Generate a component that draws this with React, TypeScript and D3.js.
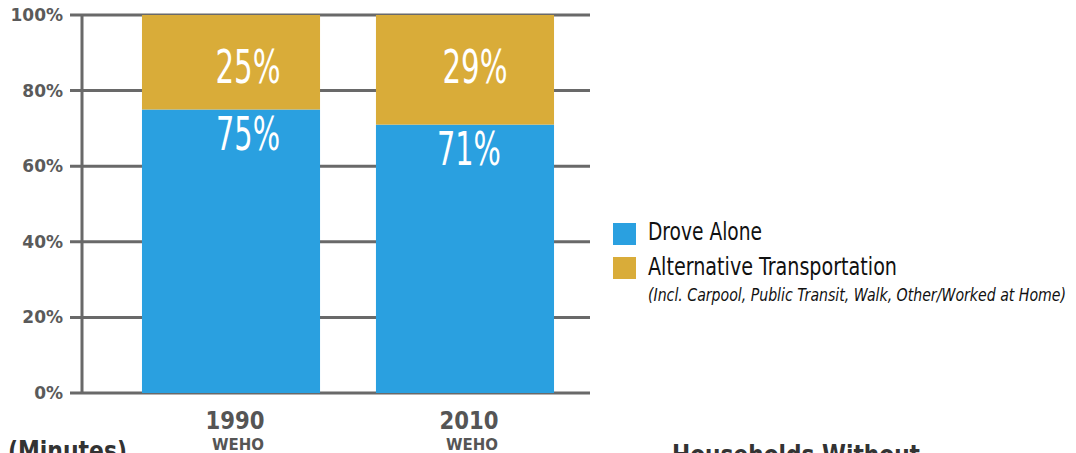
import React, { useEffect, useRef } from 'react'
import * as d3 from 'd3'

const years = ['1990', '2010']
const places = ['WEHO', 'WEHO']
const droveAlone = [75, 71]
const alternative = [25, 29]
const yTicks = [0, 20, 40, 60, 80, 100]
const legendLabels = ['Drove Alone', 'Alternative Transportation']
const legendNote = '(Incl. Carpool, Public Transit, Walk, Other/Worked at Home)'

const BLUE = '#2aa0e0'
const TAN = '#d9ac39'
const GRID = '#696969'
const NARROW = "'Liberation Sans Narrow', 'DejaVu Sans Condensed', 'Roboto', sans-serif"
const BOLD = "'DejaVu Sans', sans-serif"

export default function App() {
    const ref = useRef<SVGSVGElement>(null)

    useEffect(() => {
        const svg = d3.select(ref.current)
        svg.selectAll('*').remove()

        const y = d3.scaleLinear().domain([0, 100]).range([393, 15])
        const x = d3.scaleBand().domain(years).range([85, 611]).paddingInner(0.239).paddingOuter(0.2435)

        // gridlines
        svg.append('g').selectAll('line').data(yTicks).join('line')
            .attr('x1', 70).attr('x2', 590)
            .attr('y1', d => y(d)).attr('y2', d => y(d))
            .attr('stroke', GRID).attr('stroke-width', 3)

        svg.append('line')
            .attr('x1', 82).attr('x2', 82).attr('y1', y(100)).attr('y2', y(0))
            .attr('stroke', GRID).attr('stroke-width', 3)

        svg.append('g').selectAll('text').data(yTicks).join('text')
            .attr('x', 63).attr('y', d => y(d) + 6)
            .attr('text-anchor', 'end')
            .style('font', `bold 17px ${BOLD}`)
            .attr('fill', '#5a5a5a')
            .text(d => d + '%')

        // label nudges, as placed in the original (top, bottom)
        const topShift = [17, 10]
        const botShift = [17, 4]

        // bars
        const bars = svg.append('g')
        years.forEach((yr, i) => {
            const bx = x(yr) as number
            const mid = bx + x.bandwidth() / 2
            bars.append('rect')
                .attr('x', bx).attr('width', x.bandwidth())
                .attr('y', y(droveAlone[i])).attr('height', y(0) - y(droveAlone[i]))
                .attr('fill', BLUE)
            bars.append('rect')
                .attr('x', bx).attr('width', x.bandwidth())
                .attr('y', y(100)).attr('height', y(droveAlone[i]) - y(100))
                .attr('fill', TAN)

            bars.append('text')
                .attr('x', mid + topShift[i]).attr('y', y(100) + 68)
                .attr('text-anchor', 'middle')
                .attr('textLength', 65).attr('lengthAdjust', 'spacingAndGlyphs')
                .style('font', `46px ${NARROW}`).attr('fill', '#fff')
                .text(alternative[i] + '%')
            bars.append('text')
                .attr('x', mid + botShift[i]).attr('y', y(droveAlone[i]) + 40)
                .attr('text-anchor', 'middle')
                .attr('textLength', 64).attr('lengthAdjust', 'spacingAndGlyphs')
                .style('font', `46px ${NARROW}`).attr('fill', '#fff')
                .text(droveAlone[i] + '%')

            svg.append('text')
                .attr('x', mid + 4).attr('y', 429)
                .attr('text-anchor', 'middle')
                .attr('textLength', 59).attr('lengthAdjust', 'spacingAndGlyphs')
                .style('font', `bold 25px ${BOLD}`).attr('fill', '#555')
                .text(yr)
            svg.append('text')
                .attr('x', mid + 7).attr('y', 450)
                .attr('text-anchor', 'middle')
                .attr('textLength', 52).attr('lengthAdjust', 'spacingAndGlyphs')
                .style('font', `bold 16px ${BOLD}`).attr('fill', '#555')
                .text(places[i])
        })

        // legend
        const lg = svg.append('g')
        const colors = [BLUE, TAN]
        const lens = [114, 249]
        legendLabels.forEach((t, i) => {
            lg.append('rect').attr('x', 613).attr('y', 223 + i * 34).attr('width', 23).attr('height', 22)
                .attr('fill', colors[i])
            lg.append('text').attr('x', 648).attr('y', 240 + i * 35)
                .attr('textLength', lens[i]).attr('lengthAdjust', 'spacingAndGlyphs')
                .style('font', `24px ${NARROW}`).attr('fill', '#111')
                .text(t)
        })
        lg.append('text').attr('x', 648).attr('y', 301)
            .attr('textLength', 418).attr('lengthAdjust', 'spacingAndGlyphs')
            .style('font', `italic 18px ${NARROW}`).attr('fill', '#111')
            .text(legendNote)

        // cut-off headings from the next section
        svg.append('text').attr('x', 8).attr('y', 460)
            .attr('textLength', 119).attr('lengthAdjust', 'spacingAndGlyphs')
            .style('font', `bold 27px ${BOLD}`).attr('fill', '#333')
            .text('(Minutes)')
        svg.append('text').attr('x', 672).attr('y', 464)
            .attr('textLength', 248).attr('lengthAdjust', 'spacingAndGlyphs')
            .style('font', `bold 27px ${BOLD}`).attr('fill', '#333')
            .text('Households Without')
    }, [])

    return (
        <svg ref={ref} width={1076} height={453}
            style={{ position: 'absolute', left: 0, top: 0, background: '#fff' }} />
    )
}
